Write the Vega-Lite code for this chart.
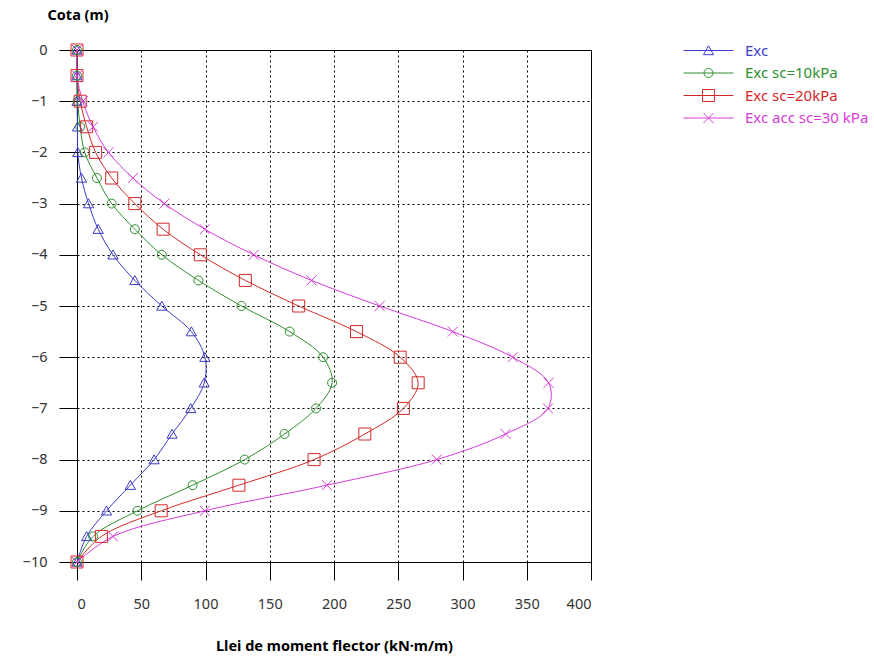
{
  "$schema": "https://vega.github.io/schema/vega-lite/v6.json",
  "width": 514,
  "height": 512,
  "autosize": {"type": "none"},
  "padding": {"left": 77, "top": 50, "right": 283, "bottom": 99},
  "background": "white",
  "config": {
    "font": "Noto Sans",
    "view": {"stroke": "black", "strokeWidth": 1},
    "axis": {
      "domainColor": "black",
      "tickColor": "black",
      "tickSize": 18,
      "gridColor": "black",
      "gridDash": [2, 3],
      "gridOpacity": 1,
      "labelFontSize": 14.5,
      "labelColor": "#333333",
      "titleFontSize": 14.5,
      "titleFontWeight": "bold",
      "titleColor": "black"
    }
  },
  "data": {
    "values": [
      {"serie": "Exc", "cota": 0, "m": 0},
      {"serie": "Exc", "cota": -0.5, "m": 0},
      {"serie": "Exc", "cota": -1, "m": 0},
      {"serie": "Exc", "cota": -1.5, "m": 0.4},
      {"serie": "Exc", "cota": -2, "m": 0.6},
      {"serie": "Exc", "cota": -2.5, "m": 3.5},
      {"serie": "Exc", "cota": -3, "m": 9},
      {"serie": "Exc", "cota": -3.5, "m": 16.5},
      {"serie": "Exc", "cota": -4, "m": 28},
      {"serie": "Exc", "cota": -4.5, "m": 45},
      {"serie": "Exc", "cota": -5, "m": 66},
      {"serie": "Exc", "cota": -5.5, "m": 89},
      {"serie": "Exc", "cota": -6, "m": 99.5},
      {"serie": "Exc", "cota": -6.5, "m": 99},
      {"serie": "Exc", "cota": -7, "m": 88.5},
      {"serie": "Exc", "cota": -7.5, "m": 74},
      {"serie": "Exc", "cota": -8, "m": 60},
      {"serie": "Exc", "cota": -8.5, "m": 41.5},
      {"serie": "Exc", "cota": -9, "m": 23},
      {"serie": "Exc", "cota": -9.5, "m": 7.5},
      {"serie": "Exc", "cota": -10, "m": 0},
      {"serie": "Exc sc=10kPa", "cota": 0, "m": 0},
      {"serie": "Exc sc=10kPa", "cota": -0.5, "m": 0},
      {"serie": "Exc sc=10kPa", "cota": -1, "m": 0.5},
      {"serie": "Exc sc=10kPa", "cota": -1.5, "m": 2.5},
      {"serie": "Exc sc=10kPa", "cota": -2, "m": 6},
      {"serie": "Exc sc=10kPa", "cota": -2.5, "m": 15.5},
      {"serie": "Exc sc=10kPa", "cota": -3, "m": 27},
      {"serie": "Exc sc=10kPa", "cota": -3.5, "m": 45},
      {"serie": "Exc sc=10kPa", "cota": -4, "m": 66},
      {"serie": "Exc sc=10kPa", "cota": -4.5, "m": 94.5},
      {"serie": "Exc sc=10kPa", "cota": -5, "m": 128},
      {"serie": "Exc sc=10kPa", "cota": -5.5, "m": 165.5},
      {"serie": "Exc sc=10kPa", "cota": -6, "m": 191.5},
      {"serie": "Exc sc=10kPa", "cota": -6.5, "m": 198.5},
      {"serie": "Exc sc=10kPa", "cota": -7, "m": 186},
      {"serie": "Exc sc=10kPa", "cota": -7.5, "m": 161.5},
      {"serie": "Exc sc=10kPa", "cota": -8, "m": 130.5},
      {"serie": "Exc sc=10kPa", "cota": -8.5, "m": 90},
      {"serie": "Exc sc=10kPa", "cota": -9, "m": 47},
      {"serie": "Exc sc=10kPa", "cota": -9.5, "m": 12.5},
      {"serie": "Exc sc=10kPa", "cota": -10, "m": 0},
      {"serie": "Exc sc=20kPa", "cota": 0, "m": 0},
      {"serie": "Exc sc=20kPa", "cota": -0.5, "m": 0},
      {"serie": "Exc sc=20kPa", "cota": -1, "m": 2.5},
      {"serie": "Exc sc=20kPa", "cota": -1.5, "m": 7.5},
      {"serie": "Exc sc=20kPa", "cota": -2, "m": 14.5},
      {"serie": "Exc sc=20kPa", "cota": -2.5, "m": 27},
      {"serie": "Exc sc=20kPa", "cota": -3, "m": 45},
      {"serie": "Exc sc=20kPa", "cota": -3.5, "m": 67},
      {"serie": "Exc sc=20kPa", "cota": -4, "m": 96},
      {"serie": "Exc sc=20kPa", "cota": -4.5, "m": 131},
      {"serie": "Exc sc=20kPa", "cota": -5, "m": 172.5},
      {"serie": "Exc sc=20kPa", "cota": -5.5, "m": 217.5},
      {"serie": "Exc sc=20kPa", "cota": -6, "m": 251.5},
      {"serie": "Exc sc=20kPa", "cota": -6.5, "m": 265.5},
      {"serie": "Exc sc=20kPa", "cota": -7, "m": 254},
      {"serie": "Exc sc=20kPa", "cota": -7.5, "m": 224},
      {"serie": "Exc sc=20kPa", "cota": -8, "m": 184.5},
      {"serie": "Exc sc=20kPa", "cota": -8.5, "m": 126},
      {"serie": "Exc sc=20kPa", "cota": -9, "m": 65.5},
      {"serie": "Exc sc=20kPa", "cota": -9.5, "m": 19},
      {"serie": "Exc sc=20kPa", "cota": -10, "m": 0},
      {"serie": "Exc acc sc=30 kPa", "cota": 0, "m": 0},
      {"serie": "Exc acc sc=30 kPa", "cota": -0.5, "m": 0},
      {"serie": "Exc acc sc=30 kPa", "cota": -1, "m": 4.5},
      {"serie": "Exc acc sc=30 kPa", "cota": -1.5, "m": 12.5},
      {"serie": "Exc acc sc=30 kPa", "cota": -2, "m": 24.5},
      {"serie": "Exc acc sc=30 kPa", "cota": -2.5, "m": 43.5},
      {"serie": "Exc acc sc=30 kPa", "cota": -3, "m": 68},
      {"serie": "Exc acc sc=30 kPa", "cota": -3.5, "m": 99.5},
      {"serie": "Exc acc sc=30 kPa", "cota": -4, "m": 137.5},
      {"serie": "Exc acc sc=30 kPa", "cota": -4.5, "m": 182.5},
      {"serie": "Exc acc sc=30 kPa", "cota": -5, "m": 235.5},
      {"serie": "Exc acc sc=30 kPa", "cota": -5.5, "m": 292.5},
      {"serie": "Exc acc sc=30 kPa", "cota": -6, "m": 339},
      {"serie": "Exc acc sc=30 kPa", "cota": -6.5, "m": 367},
      {"serie": "Exc acc sc=30 kPa", "cota": -7, "m": 366.5},
      {"serie": "Exc acc sc=30 kPa", "cota": -7.5, "m": 333.5},
      {"serie": "Exc acc sc=30 kPa", "cota": -8, "m": 280},
      {"serie": "Exc acc sc=30 kPa", "cota": -8.5, "m": 194.5},
      {"serie": "Exc acc sc=30 kPa", "cota": -9, "m": 99.5},
      {"serie": "Exc acc sc=30 kPa", "cota": -9.5, "m": 28},
      {"serie": "Exc acc sc=30 kPa", "cota": -10, "m": 0}
    ]
  },
  "encoding": {
    "x": {
      "field": "m", "type": "quantitative",
      "scale": {"domain": [0, 400], "nice": false, "zero": false},
      "axis": {
        "title": "Llei de moment flector (kN·m/m)",
        "values": [0, 50, 100, 150, 200, 250, 300, 350, 400],
        "labelPadding": 17,
        "titleY": 84,
        "titleBaseline": "middle",
        "grid": true
      }
    },
    "y": {
      "field": "cota", "type": "quantitative",
      "scale": {"domain": [-10, 0], "nice": false, "zero": false},
      "axis": {
        "title": "Cota (m)",
        "values": [-10, -9, -8, -7, -6, -5, -4, -3, -2, -1, 0],
        "labelPadding": 12,
        "titleAngle": 0,
        "titleAlign": "left",
        "titleBaseline": "middle",
        "titleX": -30,
        "titleY": -35,
        "grid": true
      }
    }
  },
  "layer": [
    {
      "mark": {"type": "line", "interpolate": "catmull-rom", "strokeWidth": 1},
      "encoding": {
        "order": {"field": "cota", "sort": "descending"},
        "color": {
          "field": "serie", "type": "nominal",
          "scale": {
            "domain": ["Exc", "Exc sc=10kPa", "Exc sc=20kPa", "Exc acc sc=30 kPa"],
            "range": ["#3c3cc8", "#2f8f2f", "#d42a2a", "#d63cd6"]
          },
          "legend": {
            "orient": "none",
            "legendX": 621,
            "legendY": -10,
            "title": null,
            "padding": 0,
            "symbolSize": 400,
            "symbolStrokeWidth": 1,
            "labelFontSize": 15,
            "labelOffset": 26,
            "rowPadding": 3.5,
            "encode": {
              "symbols": {
                "update": {
                  "shape": {"signal": "datum.value === 'Exc' ? 'M-2.5,0H2.5M0,-0.48L0.5,0.42L-0.5,0.42Z' : datum.value === 'Exc sc=10kPa' ? 'M-2.5,0H2.5M0.45,0A0.45,0.45,0,1,1,-0.45,0A0.45,0.45,0,1,1,0.45,0' : datum.value === 'Exc sc=20kPa' ? 'M-2.5,0H2.5M-0.6,-0.6H0.6V0.6H-0.6Z' : 'M-2.5,0H2.5M-0.5,-0.5L0.5,0.5M-0.5,0.5L0.5,-0.5'"},
                  "stroke": {"scale": "color", "field": "value"},
                  "fill": {"value": "transparent"},
                  "strokeWidth": {"value": 1}
                }
              },
              "labels": {
                "update": {
                  "fill": {"scale": "color", "field": "value"}
                }
              }
            }
          }
        }
      }
    },
    {
      "mark": {"type": "point", "filled": false, "size": 144, "strokeWidth": 1, "opacity": 1},
      "encoding": {
        "stroke": {
          "field": "serie", "type": "nominal",
          "scale": {
            "domain": ["Exc acc sc=30 kPa", "Exc sc=20kPa", "Exc sc=10kPa", "Exc"],
            "range": ["#d63cd6", "#d42a2a", "#2f8f2f", "#3c3cc8"]
          },
          "legend": null
        },
        "shape": {
          "field": "serie", "type": "nominal",
          "scale": {
            "domain": ["Exc sc=20kPa", "Exc acc sc=30 kPa", "Exc", "Exc sc=10kPa"],
            "range": [
              "M-1,-1H1V1H-1Z",
              "M-0.83,-0.83L0.83,0.83M-0.83,0.83L0.83,-0.83",
              "M0,-0.8L0.85,0.7L-0.85,0.7Z",
              "M0.75,0A0.75,0.75,0,1,1,-0.75,0A0.75,0.75,0,1,1,0.75,0"
            ]
          },
          "legend": null
        }
      }
    }
  ]
}
